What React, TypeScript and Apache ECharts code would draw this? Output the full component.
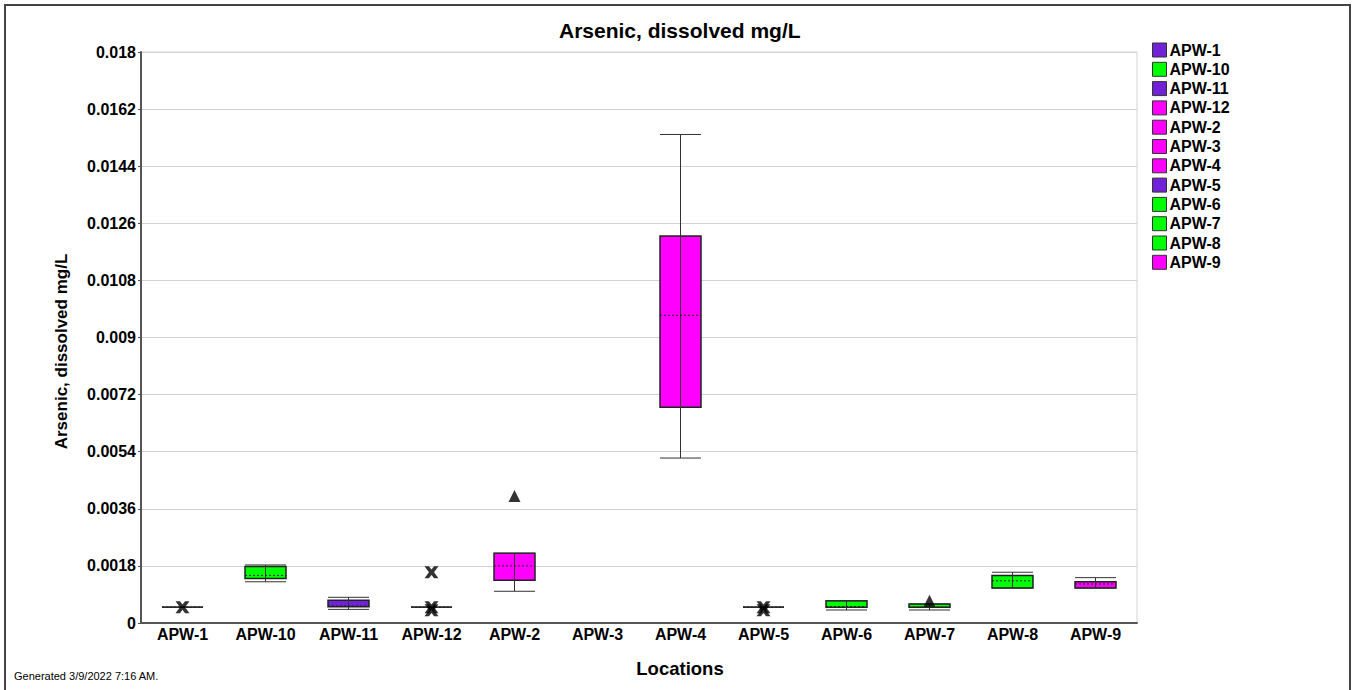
import React, { useEffect, useRef } from "react";
import * as echarts from "echarts";

const locations = ["APW-1", "APW-10", "APW-11", "APW-12", "APW-2", "APW-3", "APW-4", "APW-5", "APW-6", "APW-7", "APW-8", "APW-9"];
const PURPLE = "#7222D6";
const GREEN = "#00FF00";
const MAGENTA = "#FF00FF";
const locationColors = [PURPLE, GREEN, PURPLE, MAGENTA, MAGENTA, MAGENTA, MAGENTA, PURPLE, GREEN, GREEN, GREEN, MAGENTA];

// box statistics per location (null = no data)
const mins = [0.0005, 0.0013, 0.00043, 0.0005, 0.001, null, 0.0052, 0.0005, 0.00041, 0.00041, 0.0011, 0.0011];
const q1s = [0.0005, 0.0014, 0.00051, 0.0005, 0.00135, null, 0.0068, 0.0005, 0.0005, 0.0005, 0.0011, 0.0011];
const medians = [0.0005, 0.0015, 0.00054, 0.0005, 0.0018, null, 0.0097, 0.0005, 0.00052, 0.0005, 0.00133, 0.00123];
const q3s = [0.0005, 0.00178, 0.00072, 0.0005, 0.0022, null, 0.0122, 0.0005, 0.0007, 0.0006, 0.0015, 0.0013];
const maxs = [0.0005, 0.00183, 0.00081, 0.0005, 0.0022, null, 0.0154, 0.0005, 0.0007, 0.0006, 0.0016, 0.00143];

// marker points
const crossLocs = ["APW-1", "APW-12", "APW-12", "APW-12", "APW-5", "APW-5"];
const crossVals = [0.0005, 0.0005, 0.0004, 0.0016, 0.0005, 0.0004];
const triangleLocs = ["APW-2", "APW-7"];
const triangleVals = [0.004, 0.0007];

const FONT = "'Liberation Sans', Arial, sans-serif";
const CROSS = "path://M0,0 L3.8,0 L6,2.8 L8.2,0 L12,0 L8.2,5 L12,10 L8.2,10 L6,7.2 L3.8,10 L0,10 L3.8,5 Z";

export default function App() {
  const ref = useRef<HTMLDivElement>(null);
  useEffect(() => {
    if (!ref.current) return;
    const chart = echarts.init(ref.current, null, { renderer: "svg" });
    const HALF = 20.5;
    const renderItem = (params: any, api: any) => {
      const x = api.value(0);
      const pMin = api.coord([x, api.value(1)]);
      const pQ1 = api.coord([x, api.value(2)]);
      const pMed = api.coord([x, api.value(3)]);
      const pQ3 = api.coord([x, api.value(4)]);
      const pMax = api.coord([x, api.value(5)]);
      const cx = pMin[0];
      const stroke = { stroke: "#333", lineWidth: 1 };
      return {
        type: "group",
        children: [
          { type: "rect", shape: { x: cx - HALF, y: pQ3[1], width: HALF * 2, height: pQ1[1] - pQ3[1] }, style: { fill: api.visual("color"), stroke: "#222", lineWidth: 1.5 } },
          { type: "line", shape: { x1: cx, y1: pMax[1], x2: cx, y2: pMin[1] }, style: stroke },
          { type: "line", shape: { x1: cx - HALF, y1: pMax[1], x2: cx + HALF, y2: pMax[1] }, style: stroke },
          { type: "line", shape: { x1: cx - HALF, y1: pMin[1], x2: cx + HALF, y2: pMin[1] }, style: stroke },
          { type: "line", shape: { x1: cx - HALF, y1: pMed[1], x2: cx + HALF, y2: pMed[1] }, style: { stroke: "#222", lineWidth: 1, lineDash: [2, 2] } },
        ],
      };
    };
    const boxSeries = locations.map((name, i) => ({
      name,
      type: "custom",
      renderItem,
      itemStyle: { color: locationColors[i], borderColor: "#333", borderWidth: 1 },
      encode: { x: 0, y: [1, 2, 3, 4, 5] },
      data: mins[i] == null ? [] : [[i, mins[i], q1s[i], medians[i], q3s[i], maxs[i]]],
      z: 2,
    }));
    chart.setOption({
      animation: false,
      backgroundColor: "#fff",
      title: {
        text: "Arsenic, dissolved mg/L",
        left: 559,
        top: 20,
        padding: 0,
        textStyle: { fontFamily: FONT, fontSize: 21, fontWeight: "bold", color: "#000" },
      },
      legend: {
        orient: "vertical",
        left: 1152,
        top: 42,
        padding: 0,
        itemWidth: 14,
        itemHeight: 14,
        itemGap: 3.3,
        icon: "rect",
        itemStyle: { borderColor: "#333", borderWidth: 1 },
        data: locations,
        textStyle: { fontFamily: FONT, fontSize: 16, fontWeight: "bold", color: "#000", padding: [0, 0, 0, -2] },
      },
      grid: { left: 141, right: 217, top: 52, bottom: 67, show: true, borderColor: "#d3d3d3", borderWidth: 1 },
      xAxis: {
        type: "category",
        data: locations,
        name: "Locations",
        nameLocation: "middle",
        nameGap: 36,
        nameTextStyle: { fontFamily: FONT, fontSize: 18.5, fontWeight: "bold", color: "#000", padding: [0, 0, 0, 82] },
        axisLine: { lineStyle: { color: "#555", width: 2 } },
        axisTick: { show: false },
        axisLabel: { interval: 0, margin: 3, fontFamily: FONT, fontSize: 16, fontWeight: "bold", color: "#000" },
        splitLine: { show: false },
      },
      yAxis: {
        type: "value",
        min: 0,
        max: 0.018,
        interval: 0.0018,
        name: "Arsenic, dissolved mg/L",
        nameLocation: "middle",
        nameGap: 71,
        nameTextStyle: { fontFamily: FONT, fontSize: 17, fontWeight: "bold", color: "#000", padding: [0, 0, 0, -28] },
        axisLine: { show: true, lineStyle: { color: "#555", width: 2 } },
        axisTick: { show: true, length: 3, lineStyle: { color: "#555" } },
        axisLabel: {
          margin: 5,
          fontFamily: FONT,
          fontSize: 16,
          fontWeight: "bold",
          color: "#000",
          formatter: (v: number) => String(+v.toFixed(4)),
        },
        splitLine: { lineStyle: { color: "#d3d3d3", width: 1 } },
      },
      graphic: [
        { type: "rect", shape: { x: 5, y: 5, width: 1345, height: 700 }, style: { fill: "none", stroke: "#444", lineWidth: 2 }, silent: true },
        { type: "text", left: 14, top: 670, style: { text: "Generated 3/9/2022 7:16 AM.", fontFamily: FONT, fontSize: 11, fill: "#000" } },
      ],
      series: [
        ...boxSeries,
        {
          name: "crosses",
          type: "scatter",
          symbol: CROSS,
          symbolSize: [14, 12],
          itemStyle: { color: "#000" },
          z: 5,
          data: crossLocs.map((l, i) => [locations.indexOf(l), crossVals[i]]),
        },
        {
          name: "triangles",
          type: "scatter",
          symbol: "triangle",
          symbolSize: 12,
          itemStyle: { color: "#000" },
          z: 5,
          data: triangleLocs.map((l, i) => [locations.indexOf(l), triangleVals[i]]),
        },
      ],
    });
    return () => chart.dispose();
  }, []);
  return <div ref={ref} style={{ position: "fixed", left: 0, top: 0, width: 1354, height: 690 }} />;
}
